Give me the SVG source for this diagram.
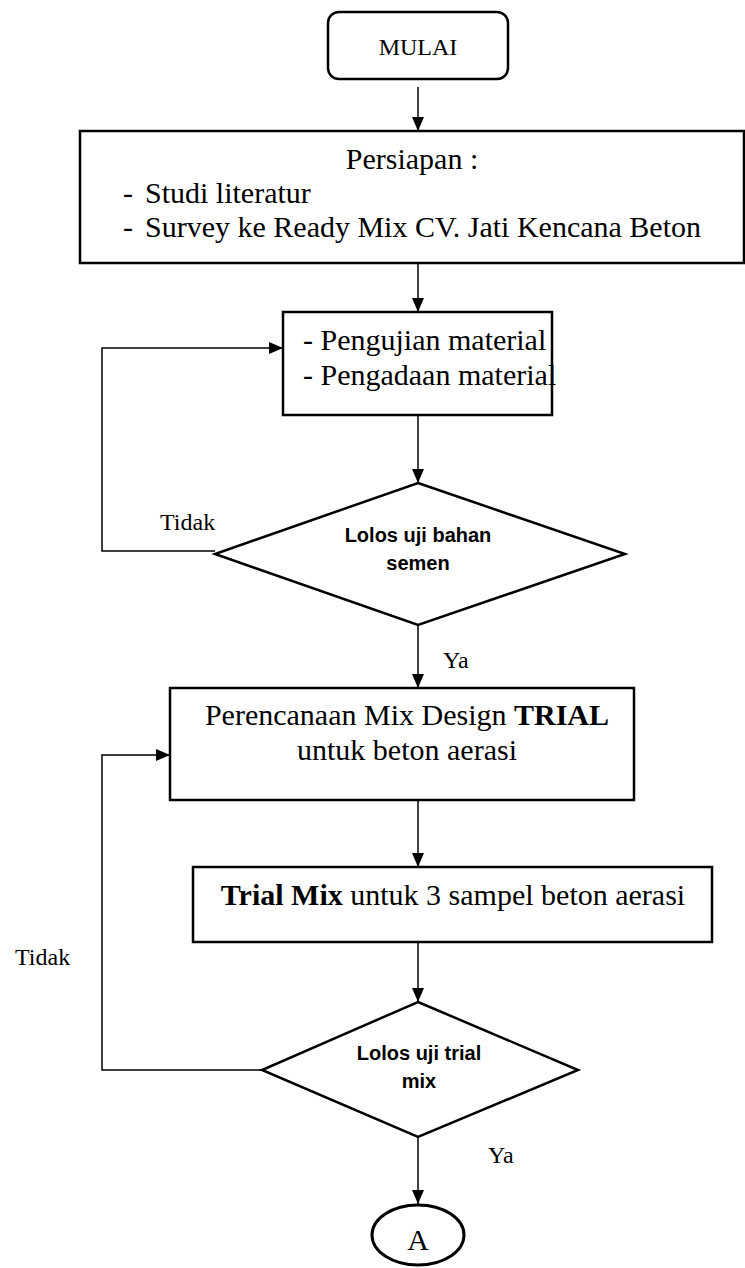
<svg xmlns="http://www.w3.org/2000/svg" width="745" height="1268" viewBox="0 0 745 1268">
<defs>
<marker id="arr" viewBox="0 0 14 12" refX="14" refY="6" markerWidth="14" markerHeight="12" markerUnits="userSpaceOnUse" orient="auto">
<path d="M0,0 L14,6 L0,12 z" fill="#000"/>
</marker>
<style>
.box{fill:#fff;stroke:#000;stroke-width:2.5}
.ln{fill:none;stroke:#000;stroke-width:1.5}
.t{font-family:"Liberation Serif","Times New Roman",serif;font-size:30px;fill:#000}
.s{font-family:"Liberation Serif","Times New Roman",serif;font-size:24px;fill:#000}
.d{font-family:"Liberation Sans",Arial,sans-serif;font-size:20px;font-weight:bold;fill:#000}
</style>
</defs>
<rect width="745" height="1268" fill="#fff"/>
<g id="connectors">
<line class="ln" x1="418" y1="87" x2="418" y2="131" marker-end="url(#arr)"/>
<line class="ln" x1="418" y1="264" x2="418" y2="312" marker-end="url(#arr)"/>
<line class="ln" x1="418" y1="415" x2="418" y2="483" marker-end="url(#arr)"/>
<polyline class="ln" points="215,551 102,551 102,348 283,348" marker-end="url(#arr)"/>
<line class="ln" x1="418" y1="625" x2="418" y2="688" marker-end="url(#arr)"/>
<line class="ln" x1="418" y1="800" x2="418" y2="867" marker-end="url(#arr)"/>
<line class="ln" x1="418" y1="942" x2="418" y2="1002" marker-end="url(#arr)"/>
<polyline class="ln" points="262,1070 102,1070 102,755 170,755" marker-end="url(#arr)"/>
<line class="ln" x1="418" y1="1137" x2="418" y2="1204" marker-end="url(#arr)"/>
<text class="s" x="160" y="530">Tidak</text>
<text class="s" x="443" y="668">Ya</text>
<text class="s" x="15" y="965">Tidak</text>
<text class="s" x="488" y="1163">Ya</text>
</g>
<g id="mulai">
<rect class="box" x="328" y="12" width="180" height="67" rx="11"/>
<text class="s" x="418" y="55" text-anchor="middle">MULAI</text>
</g>
<g id="persiapan">
<rect class="box" x="80" y="131" width="664" height="132"/>
<text class="t" x="412" y="169" text-anchor="middle">Persiapan :</text>
<text class="t" x="123" y="203">-</text>
<text class="t" x="145" y="203">Studi literatur</text>
<text class="t" x="123" y="237">-</text>
<text class="t" x="145" y="237">Survey ke Ready Mix CV. Jati Kencana Beton</text>
</g>
<g id="pengujian">
<rect class="box" x="283" y="312" width="269" height="103"/>
<text class="t" x="303" y="350">- Pengujian material</text>
<text class="t" x="303" y="385">- Pengadaan material</text>
</g>
<g id="keputusan1">
<polygon class="box" points="418,483 625,554 418,625 215,554"/>
<text class="d" x="418" y="542" text-anchor="middle">Lolos uji bahan</text>
<text class="d" x="418" y="570" text-anchor="middle">semen</text>
</g>
<g id="perencanaan">
<rect class="box" x="170" y="688" width="464" height="112"/>
<text class="t" x="407" y="725" text-anchor="middle">Perencanaan Mix Design <tspan font-weight="bold">TRIAL</tspan></text>
<text class="t" x="407" y="760" text-anchor="middle">untuk beton aerasi</text>
</g>
<g id="trialmix">
<rect class="box" x="193" y="867" width="519" height="75"/>
<text class="t" x="453" y="905" text-anchor="middle"><tspan font-weight="bold">Trial Mix</tspan> untuk 3 sampel beton aerasi</text>
</g>
<g id="keputusan2">
<polygon class="box" points="418,1002 578,1070 418,1137 262,1070"/>
<text class="d" x="419" y="1060" text-anchor="middle">Lolos uji trial</text>
<text class="d" x="419" y="1088" text-anchor="middle">mix</text>
</g>
<g id="a">
<ellipse class="box" cx="418" cy="1235" rx="46" ry="30" style="stroke-width:3"/>
<text class="t" x="418" y="1250" text-anchor="middle">A</text>
</g>
</svg>
